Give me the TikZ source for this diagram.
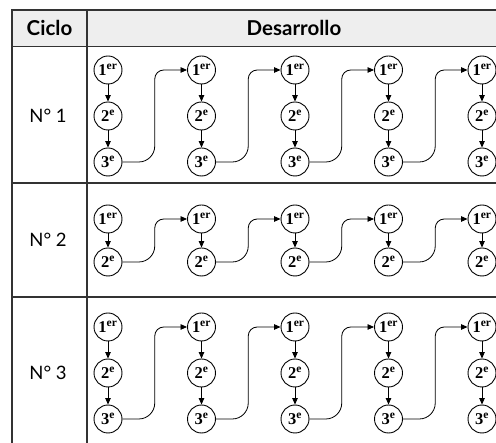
\documentclass[tikz,border=0pt]{standalone}
\usepackage{fontspec}
\setmainfont{Liberation Serif}
\newfontfamily\hdrfont{Lato}
\usetikzlibrary{arrows.meta,calc}
\tikzset{
  stage/.style={draw, circle, line width=0.9pt, minimum size=28pt, inner sep=0pt,
    font=\rmfamily\fontsize{16.5}{16.5}\selectfont\bfseries},
  vlink/.style={-{Triangle[length=6.5pt,width=5.5pt]}, line width=0.8pt},
  hop/.style={-{Triangle[length=6.5pt,width=5.5pt]}, line width=0.8pt},
  rule/.style={line width=1.3pt, draw=black!80},
  hdr/.style={font=\hdrfont\fontsize{20.5}{20.5}\selectfont\bfseries},
  cyc/.style={font=\hdrfont\fontsize{18.5}{18.5}\selectfont}
}
\newcommand{\ord}[2]{#1\textsuperscript{#2}}
\begin{document}
\begin{tikzpicture}[x=1pt,y=-1pt]
\useasboundingbox (0,0) rectangle (496,443);
% table
\fill[gray!13] (12,10) rectangle (496,46.5);
\draw[rule] (496,10) -- (12,10) -- (12,443);
\draw[rule] (87,10) -- (87,443);
\draw[rule] (12,46.5) -- (496,46.5);
\draw[rule] (12,183) -- (496,183);
\draw[rule] (12,297) -- (496,297);
\node[hdr] (hc) at (49.5,28) {Ciclo};
\node[hdr] (hd) at (294,28) {Desarrollo};
\node[cyc] (n1) at (48,116) {N° 1};
\node[cyc] (n2) at (48,240) {N° 2};
\node[cyc] (n3) at (48,373) {N° 3};
% row 1
\foreach \c/\x in {1/108,2/201.5,3/295,4/388.5,5/482}{
  \node[stage] (a\c-1) at (\x,70) {\ord{1}{er}};
  \node[stage] (a\c-2) at (\x,116) {\ord{2}{e}};
  \node[stage] (a\c-3) at (\x,162) {\ord{3}{e}};
  \draw[vlink] (a\c-1) -- (a\c-2);
  \draw[vlink] (a\c-2) -- (a\c-3);
}
% row 2
\foreach \c/\x in {1/108,2/201.5,3/295,4/388.5,5/482}{
  \node[stage] (b\c-1) at (\x,219) {\ord{1}{er}};
  \node[stage] (b\c-2) at (\x,262) {\ord{2}{e}};
  \draw[vlink] (b\c-1) -- (b\c-2);
}
% row 3
\foreach \c/\x in {1/108,2/201.5,3/295,4/388.5,5/482}{
  \node[stage] (d\c-1) at (\x,327) {\ord{1}{er}};
  \node[stage] (d\c-2) at (\x,373) {\ord{2}{e}};
  \node[stage] (d\c-3) at (\x,419) {\ord{3}{e}};
  \draw[vlink] (d\c-1) -- (d\c-2);
  \draw[vlink] (d\c-2) -- (d\c-3);
}
% hops
\foreach \c/\n in {1/2,2/3,3/4,4/5}{
  \coordinate (ma\c) at ($(a\c-3.east)!.5!(a\n-1.west)$);
  \draw[hop, rounded corners=16pt] (a\c-3.east) -- (ma\c |- a\c-3.east) [rounded corners=9pt] -- (ma\c |- a\n-1.west) -- (a\n-1.west);
  \coordinate (mb\c) at ($(b\c-2.east)!.5!(b\n-1.west)$);
  \draw[hop, rounded corners=16pt] (b\c-2.east) -- (mb\c |- b\c-2.east) [rounded corners=9pt] -- (mb\c |- b\n-1.west) -- (b\n-1.west);
  \coordinate (md\c) at ($(d\c-3.east)!.5!(d\n-1.west)$);
  \draw[hop, rounded corners=16pt] (d\c-3.east) -- (md\c |- d\c-3.east) [rounded corners=9pt] -- (md\c |- d\n-1.west) -- (d\n-1.west);
}
\end{tikzpicture}
\end{document}
